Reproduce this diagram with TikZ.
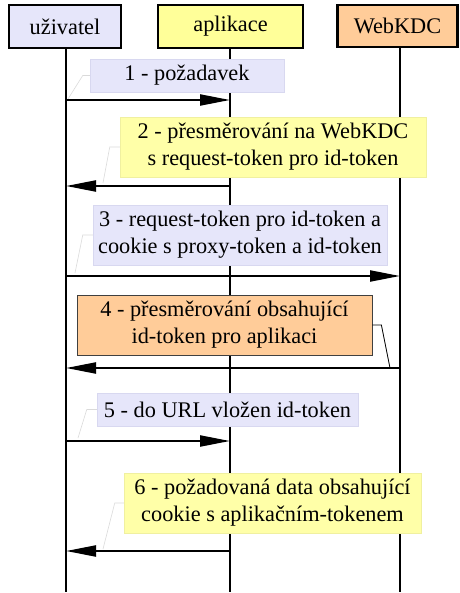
\documentclass[tikz,border=0pt]{standalone}
\usepackage{fontspec}
\setmainfont{Liberation Serif}
\usetikzlibrary{arrows.meta}

\definecolor{lav}{HTML}{E6E6FA}
\definecolor{lavedge}{HTML}{D8D8F0}
\definecolor{yel}{HTML}{FFFF99}
\definecolor{yellab}{HTML}{FFFFA8}
\definecolor{yeledge}{HTML}{F0F0A0}
\definecolor{peach}{HTML}{FFCC99}
\definecolor{faint}{HTML}{DADADA}

\tikzset{
  x=1pt, y=-1pt,
  txt/.style={font=\fontsize{22.3}{27}\selectfont, align=center, inner sep=0pt},
  actor/.style={txt, draw=black, line width=2.5pt},
  msglabel/.style={txt},
  lifeline/.style={line width=2.2pt},
  msg/.style={line width=2.2pt, -{Triangle[length=30pt,width=11pt]}},
  tether/.style={draw=faint, line width=0.6pt},
}

\begin{document}
\begin{tikzpicture}
\useasboundingbox (0,0) rectangle (459,593);

% participants
\node[actor, fill=lav, minimum width=112pt, minimum height=43pt] (u) at (65,26.5) {uživatel};
\node[actor, fill=yel, minimum width=145pt, minimum height=43pt] (a) at (230.5,26.5) {aplikace};
\node[actor, fill=peach, minimum width=120pt, minimum height=42pt] (w) at (397.5,26) {WebKDC};

% lifeline ends
\coordinate (uend) at (66,592);
\coordinate (aend) at (230,592);
\coordinate (wend) at (400,592);
\draw[lifeline] (66,48) -- (uend);
\draw[lifeline] (230,48) -- (aend);
\draw[lifeline] (400,47) -- (wend);

% message anchor points on the lifelines
\coordinate (u1) at (66,100);  \coordinate (a1) at (230,100);
\coordinate (u2) at (66,186);  \coordinate (a2) at (230,186);
\coordinate (u3) at (66,276);  \coordinate (w3) at (400,276);
\coordinate (u4) at (66,368);  \coordinate (w4) at (400,368);
\coordinate (u5) at (66,441);  \coordinate (a5) at (230,441);
\coordinate (u6) at (66,551);  \coordinate (a6) at (230,551);

% message labels
\node[msglabel, fill=lav, draw=lavedge, line width=0.5pt, minimum width=194pt, minimum height=33pt] (l1) at (187,75.5) {1 - požadavek};
\node[msglabel, fill=yellab, draw=yeledge, line width=0.5pt, minimum width=306pt, minimum height=60pt] (l2) at (273,147) {2 - přesměrování na WebKDC\\s request-token pro id-token};
\node[msglabel, fill=lav, draw=lavedge, line width=0.5pt, minimum width=294pt, minimum height=60pt] (l3) at (240,235) {3 - request-token pro id-token a\\cookie s proxy-token a id-token};
\node[msglabel, fill=peach, draw=black!75, line width=0.8pt, minimum width=295pt, minimum height=60pt] (l4) at (224.5,325) {4 - přesměrování obsahující\\id-token pro aplikaci};
\node[msglabel, fill=lav, draw=lavedge, line width=0.5pt, minimum width=261pt, minimum height=33pt] (l5) at (227.5,409.5) {5 - do URL vložen id-token};
\node[msglabel, fill=yellab, draw=yeledge, line width=0.5pt, minimum width=297pt, minimum height=60pt] (l6) at (272.5,503) {6 - požadovaná data obsahující\\cookie s aplikačním-tokenem};

% tethers from labels to their messages
\draw[tether] (l1.west) -- ++(-7,0) -- (68,99);
\draw[tether] (l2.west) -- ++(-10,0) -- (103,183);
\draw[tether] (l3.west) -- ++(-10,0) -- (75,273);
\draw[tether] (l5.west) -- ++(-10,0) -- (78,438);
\draw[tether] (l6.west) -- ++(-9,0) -- (103,549);
\draw[black, line width=0.8pt] (l4.east) -- ++(9,0) -- (390,368);

% messages
\draw[msg] (u1) -- (a1);
\draw[msg] (a2) -- (u2);
\draw[msg] (u3) -- (w3);
\draw[msg] (w4) -- (u4);
\draw[msg] (u5) -- (a5);
\draw[msg] (a6) -- (u6);
\end{tikzpicture}
\end{document}
